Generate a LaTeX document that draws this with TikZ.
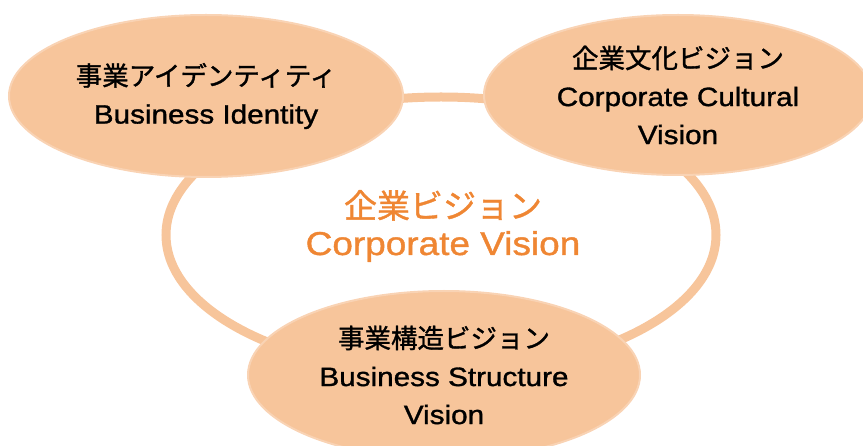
\documentclass[tikz,border=0pt]{standalone}
\usepackage{fontspec}
\usetikzlibrary{shapes.geometric}
\newfontfamily\jpfont[FakeBold=1.2]{Noto Sans CJK JP}
\newfontfamily\latinfont[FakeStretch=1.12,FakeBold=1.2]{Liberation Sans}
\definecolor{peach}{HTML}{F7C59B}
\definecolor{visionorange}{HTML}{EF8633}
\tikzset{
  bubble/.style={ellipse, fill=peach, draw=peach!75!white, line width=2pt, inner sep=0pt,
    align=center, font=\fontsize{26.5}{38}\selectfont},
  centertext/.style={align=center, text=visionorange, inner sep=0pt,
    font=\fontsize{33}{37}\selectfont}
}
\begin{document}
\begin{tikzpicture}[x=1pt,y=1pt,yscale=-1,xscale=1]
\useasboundingbox (0,0) rectangle (863,446);
\clip (0,0) rectangle (863,446);
% Ring
\node (ring) at (441,235) [ellipse, draw=peach, line width=9pt, minimum width=550, minimum height=276, inner sep=0pt] {};
% Text Node
\node (vision) at (443,226) [centertext] {{\jpfont 企業ビジョン}\\{\latinfont Corporate Vision}};
% Business identity
\node (identity) at (206,96) [bubble, minimum width=394, minimum height=162] {{\jpfont 事業アイデンティティ}\\{\latinfont Business Identity}};
% Corporate culture
\node (culture) at (678,95) [bubble, minimum width=388, minimum height=160] {{\jpfont 企業文化ビジョン}\\{\latinfont Corporate Cultural}\\{\latinfont Vision}};
% Business structure
\node (structure) at (444,375) [bubble, minimum width=392, minimum height=168] {{\jpfont 事業構造ビジョン}\\{\latinfont Business Structure}\\{\latinfont Vision}};
\end{tikzpicture}
\end{document}
